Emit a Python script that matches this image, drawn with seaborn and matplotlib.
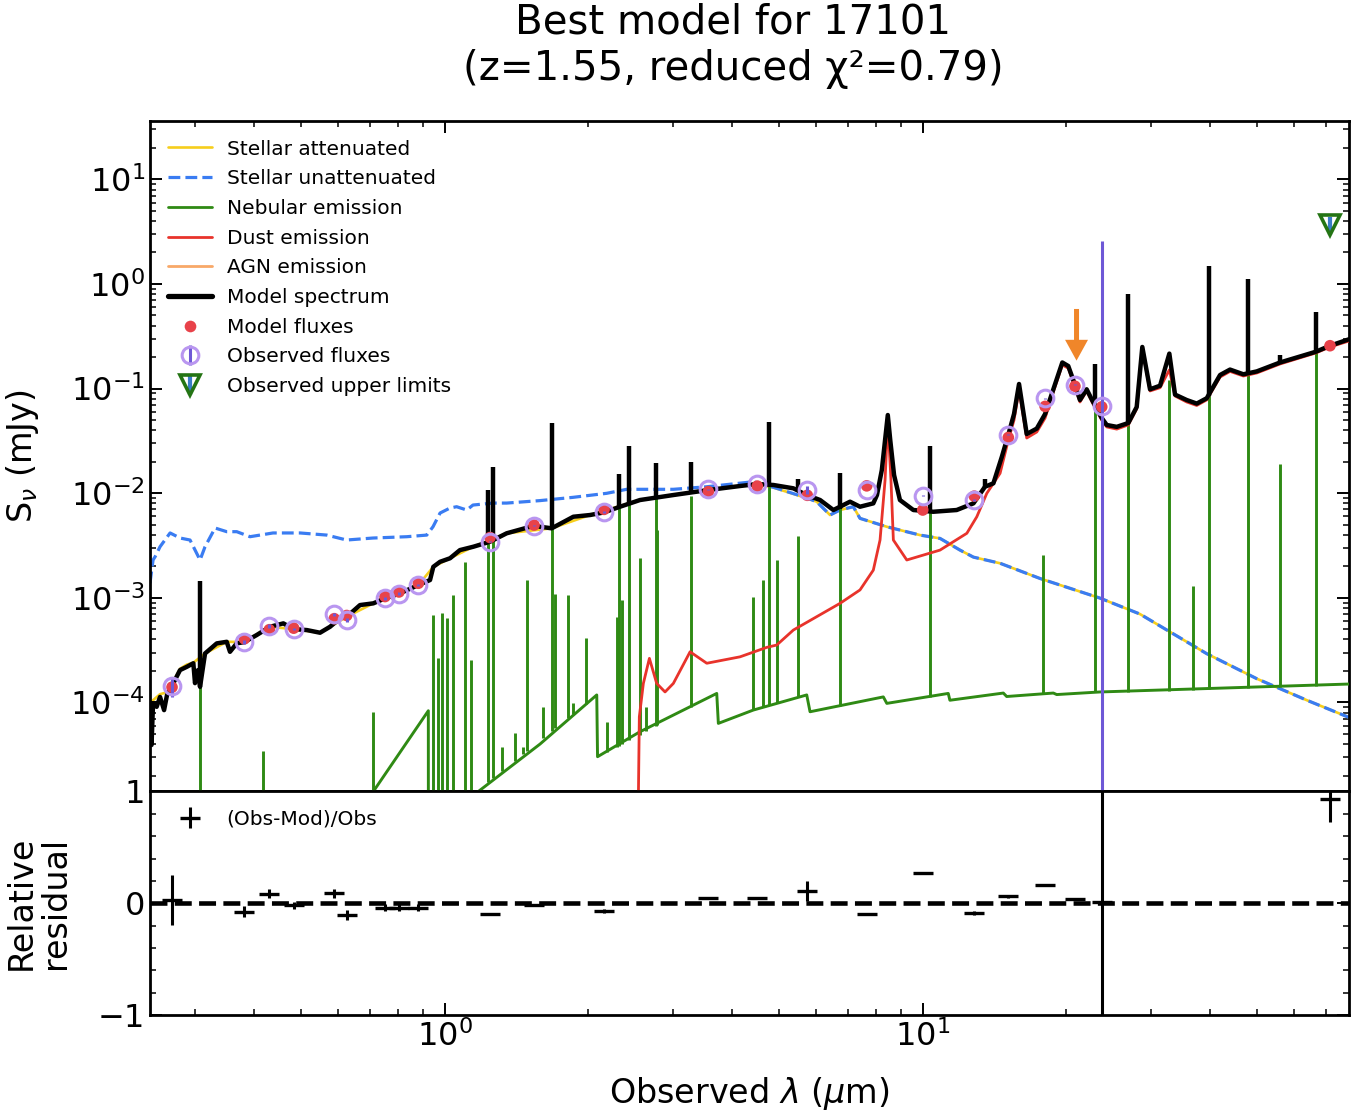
import numpy as np
import matplotlib
matplotlib.use("Agg")
import matplotlib.pyplot as plt
from matplotlib.lines import Line2D
from matplotlib.ticker import MultipleLocator, LogLocator, NullFormatter
import seaborn as sns

sns.set_style("ticks", rc={"axes.edgecolor": "black", "text.color": "black",
                           "axes.labelcolor": "black", "xtick.color": "black",
                           "ytick.color": "black"})
plt.rcParams['font.family'] = ['DejaVu Sans']
plt.rcParams['mathtext.fontset'] = 'dejavusans'

# ---- data (wavelength in um, flux in mJy) ----
stellar_att_wl = [0.2427, 0.2456, 0.254, 0.2627, 0.2691, 0.2797, 0.2889, 0.2982, 0.3155, 0.3502,
                  0.3813, 0.4314, 0.4828, 0.549, 0.6243, 0.7097, 0.803, 0.8816, 0.9475, 1.027,
                  1.149, 1.349, 1.676, 2.016, 2.564, 3.564, 4.512, 4.88, 5.63, 6.006,
                  6.405, 6.721, 7.165, 7.40, 8.42, 9.88, 10.88, 11.98, 12.78, 14.53,
                  17.62, 23.5, 28.5, 39.3, 50.0, 63.7, 78.0]
stellar_att_flux = [1.0e-4, 1.05e-4, 1.2e-4, 1.25e-4, 1.5e-4, 2.1e-4, 2.3e-4, 2.4e-4, 2.94e-4, 3.80e-4,
                    3.78e-4, 5.29e-4, 5.03e-4, 4.64e-4, 6.59e-4, 8.86e-4, 1.094e-3, 1.325e-3, 1.98e-3, 2.39e-3,
                    3.08e-3, 4.14e-3, 4.62e-3, 6.19e-3, 8.61e-3, 1.073e-2, 1.225e-2, 1.13e-2, 9.2e-3, 8.30e-3,
                    6.19e-3, 6.91e-3, 7.43e-3, 5.75e-3, 4.78e-3, 3.98e-3, 3.70e-3, 2.86e-3, 2.45e-3, 2.14e-3,
                    1.53e-3, 9.95e-4, 7.0e-4, 2.93e-4, 1.69e-4, 1.05e-4, 7.2e-5]

stellar_unatt_wl = [0.242, 0.2456, 0.248, 0.254, 0.2666, 0.2797, 0.2935, 0.3006, 0.308, 0.3155,
                    0.3311, 0.3502, 0.3675, 0.3918, 0.4377, 0.4985, 0.567, 0.624, 0.7085, 0.834,
                    0.918, 0.946, 0.979, 1.027, 1.06, 1.113, 1.147, 1.263, 1.349, 1.584,
                    1.86, 2.184, 2.405, 3.011, 3.537, 4.426, 4.88, 5.63, 6.006, 6.405,
                    6.721, 7.165, 7.40, 8.42, 9.88, 10.88, 11.98, 12.78, 14.53, 17.62,
                    23.5, 28.5, 39.3, 50.0, 63.7, 78.0]
stellar_unatt_flux = [1.38e-3, 2.30e-3, 2.47e-3, 3.08e-3, 4.17e-3, 3.73e-3, 3.57e-3, 2.87e-3, 2.30e-3, 3.08e-3,
                      4.65e-3, 4.29e-3, 4.29e-3, 3.84e-3, 4.17e-3, 4.17e-3, 3.98e-3, 3.57e-3, 3.73e-3, 3.84e-3,
                      3.98e-3, 4.78e-3, 6.47e-3, 7.22e-3, 7.43e-3, 6.91e-3, 7.71e-3, 8.05e-3, 8.05e-3, 8.5e-3,
                      9.14e-3, 9.98e-3, 1.09e-2, 1.09e-2, 1.153e-2, 1.288e-2, 1.138e-2, 9.26e-3, 8.30e-3, 6.19e-3,
                      6.91e-3, 7.43e-3, 5.75e-3, 4.78e-3, 3.98e-3, 3.70e-3, 2.86e-3, 2.45e-3, 2.14e-3, 1.53e-3,
                      9.95e-4, 7.0e-4, 2.93e-4, 1.69e-4, 1.05e-4, 7.2e-5]

neb_cont_wl = [0.7097, 0.925, 0.9252, 1.177, 1.584, 2.082, 2.09, 2.564, 3.711, 3.74,
               4.426, 5.725, 5.817, 8.28, 8.42, 11.32, 11.41, 14.76, 15.0, 18.78,
               19.09, 23.5, 78.0]
neb_cont_flux = [1.41e-5, 8.33e-5, 5e-6, 1.41e-5, 4.0e-5, 1.18e-4, 3.03e-5, 5.25e-5, 1.22e-4, 6.31e-5,
                 8.46e-5, 1.18e-4, 8.15e-5, 1.13e-4, 9.8e-5, 1.22e-4, 1.05e-4, 1.23e-4, 1.14e-4, 1.23e-4,
                 1.19e-4, 1.26e-4, 1.50e-4]

neb_line_wl = [0.3083, 0.4164, 0.7097, 0.9475, 0.9705, 0.9895, 1.011, 1.043, 1.104, 1.136,
               1.235, 1.265, 1.321, 1.404, 1.462, 1.490, 1.609, 1.676, 1.703, 1.816,
               1.860, 1.977, 2.184, 2.293, 2.318, 2.348, 2.432, 2.564, 2.639, 2.766,
               2.788, 3.273, 4.426, 4.63, 4.78, 4.97, 5.498, 6.72, 10.37, 17.84,
               22.96, 26.95, 32.84, 36.86, 39.8, 48.05, 55.98, 66.47]
neb_line_top = [1.3e-3, 3.45e-5, 8.15e-5, 6.85e-4, 2.66e-4, 7.11e-4, 6.37e-4, 1.064e-3, 2.21e-3, 2.54e-4,
                7.3e-3, 1.43e-2, 3.77e-5, 5.07e-5, 3.75e-5, 1.48e-3, 9.1e-5, 4.2e-2, 1.10e-3, 1.06e-3,
                9.8e-5, 4.10e-4, 6.54e-5, 6.50e-4, 7.7e-3, 9.53e-4, 2.08e-2, 2.39e-3, 9.1e-5, 1.04e-2,
                4.45e-3, 9.4e-3, 1.025e-3, 1.48e-3, 3.6e-2, 2.30e-3, 3.90e-3, 8.1e-3, 2.16e-2, 2.54e-3,
                9.0e-2, 0.76, 0.12, 1.30e-3, 1.40, 0.99, 1.89e-2, 0.31]
neb_line_base = [1e-5, 1e-5, 1e-5, 1e-5, 1e-5, 1e-5, 1e-5, 1e-5, 1e-5, 1e-5,
                 1.73e-5, 1.89e-5, 2.22e-5, 2.78e-5, 3.22e-5, 3.45e-5, 4.59e-5, 5.32e-5, 5.64e-5, 7.13e-5,
                 7.78e-5, 9.74e-5, 3.34e-5, 3.77e-5, 3.87e-5, 3.98e-5, 4.34e-5, 4.94e-5, 5.31e-5, 5.95e-5,
                 6.06e-5, 8.98e-5, 8.46e-5, 8.95e-5, 9.38e-5, 9.93e-5, 1.16e-4, 9.31e-5, 1.14e-4, 1.21e-4,
                 1.25e-4, 1.27e-4, 1.30e-4, 1.33e-4, 1.34e-4, 1.37e-4, 1.40e-4, 1.45e-4]

dust_wl = [2.543, 2.556, 2.606, 2.683, 2.779, 2.893, 3.011, 3.264, 3.537, 4.152,
           4.721, 4.955, 5.367, 6.721, 7.40, 7.89, 8.15, 8.35, 8.46, 8.59,
           8.69, 9.27, 10.88, 12.38, 12.99, 13.63, 14.53, 15.12, 15.54, 15.92,
           16.52, 17.34, 18.05, 18.78, 19.61, 20.18, 20.84, 21.35, 22.05, 22.63,
           23.71, 24.29, 25.49, 26.95, 28.06, 28.83, 29.92, 31.40, 32.84, 33.75,
           35.70, 37.47, 39.32, 41.93, 43.99, 46.91, 50.03, 55.98, 66.47, 71.20,
           78.0]
dust_flux = [1.0e-5, 7.30e-5, 1.52e-4, 2.64e-4, 1.52e-4, 1.26e-4, 1.52e-4, 3.05e-4, 2.37e-4, 2.73e-4,
             3.36e-4, 3.54e-4, 4.92e-4, 8.86e-4, 1.19e-3, 1.84e-3, 3.57e-3, 1.34e-2, 5.0e-2, 1.34e-2,
             3.57e-3, 2.30e-3, 2.86e-3, 4.14e-3, 5.96e-3, 9.98e-3, 1.55e-2, 3.23e-2, 5.01e-2, 9.7e-2,
             3.37e-2, 3.85e-2, 5.24e-2, 9.27e-2, 0.168, 0.157, 0.1035, 7.45e-2, 9.5e-2, 7.45e-2,
             5.0e-2, 4.3e-2, 4.1e-2, 4.5e-2, 6.4e-2, 0.24, 9.5e-2, 0.102, 0.151, 8.5e-2,
             7.45e-2, 6.9e-2, 7.8e-2, 0.129, 0.146, 0.132, 0.141, 0.172, 0.219, 0.25,
             0.285]

model_wl = [0.2427, 0.2438, 0.2456, 0.2499, 0.254, 0.259, 0.2627, 0.2691, 0.2797, 0.2889,
            0.2982, 0.3006, 0.305, 0.308, 0.3155, 0.3338, 0.3502, 0.3558, 0.3675, 0.3813,
            0.4046, 0.4314, 0.4601, 0.4828, 0.5152, 0.549, 0.5761, 0.6045, 0.6243, 0.6655,
            0.7097, 0.7509, 0.803, 0.8816, 0.9326, 0.9475, 0.9786, 1.027, 1.077, 1.149,
            1.245, 1.349, 1.539, 1.584, 1.676, 1.86, 2.016, 2.157, 2.329, 2.564,
            3.011, 3.564, 4.152, 4.512, 4.88, 5.367, 5.725, 6.106, 6.509, 7.053,
            7.40, 7.89, 8.03, 8.22, 8.35, 8.46, 8.56, 8.72, 8.97, 9.567,
            10.53, 11.79, 12.78, 13.51, 14.07, 14.65, 15.12, 15.54, 15.92, 16.52,
            17.34, 18.05, 18.78, 19.61, 20.18, 20.84, 21.35, 22.05, 22.63, 23.71,
            24.29, 25.49, 26.95, 28.06, 28.83, 29.92, 31.40, 32.84, 33.75, 35.70,
            37.47, 39.32, 41.93, 43.99, 46.91, 50.03, 55.98, 66.47, 71.20, 78.0]
model_flux = [9.86e-5, 3.92e-5, 9.86e-5, 9.09e-5, 1.13e-4, 8.45e-5, 1.18e-4, 1.445e-4, 2.04e-4, 2.19e-4,
              2.37e-4, 1.53e-4, 2.04e-4, 1.41e-4, 2.94e-4, 3.67e-4, 3.80e-4, 3.05e-4, 3.67e-4, 3.78e-4,
              4.41e-4, 5.29e-4, 5.70e-4, 5.03e-4, 4.92e-4, 4.64e-4, 5.29e-4, 6.37e-4, 6.59e-4, 8.53e-4,
              8.86e-4, 9.89e-4, 1.094e-3, 1.325e-3, 1.48e-3, 1.98e-3, 2.21e-3, 2.39e-3, 2.86e-3, 3.08e-3,
              3.44e-3, 4.14e-3, 4.89e-3, 4.78e-3, 4.62e-3, 5.96e-3, 6.19e-3, 6.56e-3, 7.43e-3, 8.61e-3,
              9.61e-3, 1.073e-2, 1.172e-2, 1.225e-2, 1.198e-2, 1.114e-2, 9.61e-3, 8.61e-3, 6.91e-3, 8.30e-3,
              7.43e-3, 8.0e-3, 9.61e-3, 1.667e-2, 3.23e-2, 5.59e-2, 3.23e-2, 1.49e-2, 8.61e-3, 6.91e-3,
              6.65e-3, 6.91e-3, 8.0e-3, 1.153e-2, 1.244e-2, 2.22e-2, 3.63e-2, 5.72e-2, 0.1107, 3.68e-2,
              4.15e-2, 5.72e-2, 9.85e-2, 0.1777, 0.1644, 0.1092, 7.78e-2, 9.85e-2, 7.78e-2, 5.24e-2,
              4.49e-2, 4.31e-2, 4.69e-2, 6.67e-2, 0.250, 9.85e-2, 0.1066, 0.216, 8.77e-2, 7.78e-2,
              7.19e-2, 8.09e-2, 0.1349, 0.152, 0.137, 0.146, 0.1777, 0.2249, 0.257, 0.296]

# narrow lines on top of the model spectrum
spike_wl = [0.3083, 1.235, 1.265, 1.676, 2.318, 2.432, 2.766, 3.273, 4.78, 5.498,
            6.72, 10.37, 13.51, 22.96, 26.95, 39.8, 48.05, 55.98, 66.47]
spike_base = [1.41e-4, 3.3e-3, 3.5e-3, 4.62e-3, 7.3e-3, 7.9e-3, 9.3e-3, 1.04e-2, 1.2e-2, 1.05e-2,
              7.0e-3, 6.7e-3, 1.15e-2, 7.8e-2, 4.69e-2, 8.5e-2, 0.14, 0.178, 0.225]
spike_top = [1.456e-3, 1.07e-2, 1.78e-2, 4.69e-2, 1.51e-2, 2.84e-2, 1.96e-2, 1.99e-2, 4.80e-2, 1.38e-2,
             1.55e-2, 2.83e-2, 1.36e-2, 0.1706, 0.81, 1.486, 1.126, 0.21, 0.534]

# photometry
obs_wl = [0.2691, 0.3813, 0.430, 0.4836, 0.588, 0.6243, 0.7509, 0.803, 0.8816, 1.245,
          1.539, 2.157, 3.564, 4.512, 5.741, 7.643, 10.01, 12.83, 15.12, 18.05,
          20.84, 23.71]
obs_flux = [1.445e-4, 3.78e-4, 5.41e-4, 5.03e-4, 6.95e-4, 6.14e-4, 9.89e-4, 1.094e-3, 1.325e-3, 3.44e-3,
            4.89e-3, 6.56e-3, 1.09e-2, 1.225e-2, 1.073e-2, 1.073e-2, 9.46e-3, 8.61e-3, 3.63e-2, 8.09e-2,
            0.1092, 6.76e-2]
obs_err = [3.2e-5, 1.9e-5, 2.2e-5, 1.5e-5, 2.8e-5, 2.8e-5, 3.0e-5, 3.3e-5, 4.0e-5, 3.4e-5,
           4.9e-5, 1.3e-4, 1.1e-4, 1.2e-4, 9.7e-4, 1.1e-4, 9.5e-5, 1.7e-4, 3.6e-4, 8.1e-4,
           1.1e-3, 2.51]
mod_flux = [1.40e-4, 4.06e-4, 4.96e-4, 5.13e-4, 6.32e-4, 6.78e-4, 1.029e-3, 1.138e-3, 1.378e-3, 3.77e-3,
            4.96e-3, 7.01e-3, 1.036e-2, 1.17e-2, 9.55e-3, 1.176e-2, 6.91e-3, 9.38e-3, 3.41e-2, 6.76e-2,
            0.1053, 6.69e-2]
uplim_wl = [71.2]
uplim_flux = [3.66]
uplim_err = [0.73]
uplim_mod = [0.257]

# colours
c_gold = '#f6ce1c'
c_blue = '#3a7cf2'
c_green = '#2f8a14'
c_red = '#e8332b'
c_orange = '#f8a868'
c_dot = '#e8424a'
c_ring = '#b996f0'
c_bar = '#6e58d6'
c_tri = '#247414'
c_tri_bar = '#3a7cc8'
c_arrow = '#f0862a'

fig = plt.figure(figsize=(13.66, 11.16), dpi=100)
ax1 = fig.add_axes([0.1098, 0.2908, 0.8777, 0.6004])
ax2 = fig.add_axes([0.1098, 0.0905, 0.8777, 0.2003], sharex=ax1)
ax1.set_xscale('log')
ax1.set_yscale('log')

common = dict(ax=ax1, estimator=None, sort=False, legend=False)
sns.lineplot(x=stellar_att_wl, y=stellar_att_flux, color=c_gold, lw=1.9, zorder=1, **common)
sns.lineplot(x=stellar_unatt_wl, y=stellar_unatt_flux, color=c_blue, lw=2.3, linestyle='--', zorder=2, **common)
sns.lineplot(x=neb_cont_wl, y=neb_cont_flux, color=c_green, lw=2.1, zorder=3, **common)
ax1.vlines(neb_line_wl, neb_line_base, neb_line_top, color=c_green, lw=2.1, zorder=3)
sns.lineplot(x=dust_wl, y=dust_flux, color=c_red, lw=2.0, zorder=4, **common)
sns.lineplot(x=model_wl, y=model_flux, color='k', lw=3.2, zorder=5, **common)
ax1.vlines(spike_wl, spike_base, spike_top, color='k', lw=3.2, zorder=5)

filt_wl = obs_wl + uplim_wl
filt_mod = mod_flux + uplim_mod
sns.scatterplot(x=filt_wl, y=filt_mod, ax=ax1, color=c_dot, s=70, edgecolor='none',
                zorder=6, legend=False)
obs = ax1.errorbar(obs_wl, obs_flux, yerr=obs_err, ls='', marker='o', ms=12, mfc='none',
                   mec=c_ring, mew=2.2, color=c_bar, elinewidth=2.2, capsize=0, zorder=7)
upl = ax1.errorbar(uplim_wl, uplim_flux, yerr=uplim_err, ls='', marker='v', ms=15, mfc='none',
                   mec=c_tri, mew=2.6, color=c_tri_bar, elinewidth=3, capsize=0, zorder=7)
ax1.annotate('', xy=(21.0, 0.185), xytext=(21.0, 0.577),
             arrowprops=dict(facecolor=c_arrow, edgecolor='none', width=3.6,
                             headwidth=16.5, headlength=15, shrink=0), zorder=8)

ax1.set_xlim(0.242, 78.0)
ax1.set_ylim(1.41e-5, 35.8)
ax1.yaxis.set_major_locator(LogLocator(base=10, numticks=20))
ax1.yaxis.set_minor_locator(LogLocator(base=10, subs=np.arange(2, 10), numticks=20))
ax1.yaxis.set_minor_formatter(NullFormatter())
ax1.set_ylabel('S$_\\nu$ (mJy)', fontsize=24)
ax1.yaxis.set_label_coords(-0.091, 0.5)

handles = [Line2D([], [], color=c_gold, lw=1.9),
           Line2D([], [], color=c_blue, lw=2.3, ls='--'),
           Line2D([], [], color=c_green, lw=2.0),
           Line2D([], [], color=c_red, lw=2.0),
           Line2D([], [], color=c_orange, lw=2.0),
           Line2D([], [], color='k', lw=3.8),
           Line2D([], [], ls='', marker='o', ms=8.4, color=c_dot, mec='none'),
           obs, upl]
labels = ['Stellar attenuated', 'Stellar unattenuated', 'Nebular emission', 'Dust emission',
          'AGN emission', 'Model spectrum', 'Model fluxes', 'Observed fluxes',
          'Observed upper limits']
ax1.legend(handles, labels, loc='upper left', frameon=False, fontsize=14.5,
           labelspacing=0.53, handlelength=2.2, handletextpad=0.7)

# residuals
res_wl = np.array(filt_wl)
res_obs = np.array(obs_flux + uplim_flux)
res_mod = np.array(filt_mod)
res_err = np.array(obs_err + uplim_err)
residual = (res_obs - res_mod) / res_obs
ax2.errorbar(res_wl, residual, yerr=res_err / res_obs, marker='_', ms=14, mew=2.4,
             color='k', ls='None', elinewidth=2.2, capsize=0, label='(Obs-Mod)/Obs')
ax2.axhline(0, ls='--', color='k', lw=3.3)
ax2.set_ylim(-1, 1)
ax2.yaxis.set_major_locator(MultipleLocator(1))
ax2.yaxis.set_minor_locator(MultipleLocator(0.2))
ax2.set_ylabel('Relative\nresidual', fontsize=24, linespacing=1.05)
ax2.yaxis.set_label_coords(-0.065, 0.5)
ax2.set_xlabel('Observed $\\lambda$ ($\\mu$m)', fontsize=24, labelpad=16)
ax2.legend(loc='upper left', frameon=False, fontsize=14.5, handlelength=2.2, handletextpad=0.7)

ax1.tick_params(which='both', direction='in', top=True, right=True, bottom=False,
                labelbottom=False, left=True)
ax2.tick_params(which='both', direction='in', top=False, right=True, bottom=True, left=True)
for ax in (ax1, ax2):
    ax.tick_params(which='major', length=8.5, width=1.4, labelsize=23)
    ax.tick_params(which='minor', length=4.5, width=1.1)
    for sp in ax.spines.values():
        sp.set_linewidth(2.0)
        sp.set_color('black')
ax1.xaxis.set_major_locator(LogLocator(base=10, numticks=20))
ax1.xaxis.set_minor_locator(LogLocator(base=10, subs=np.arange(2, 10), numticks=20))
ax1.xaxis.set_minor_formatter(NullFormatter())

fig.text(0.5366, 0.998, 'Best model for 17101\n(z=1.55, reduced χ²=0.79)',
         ha='center', va='top', fontsize=29, linespacing=1.22)

fig.savefig('out.png', dpi=100)
